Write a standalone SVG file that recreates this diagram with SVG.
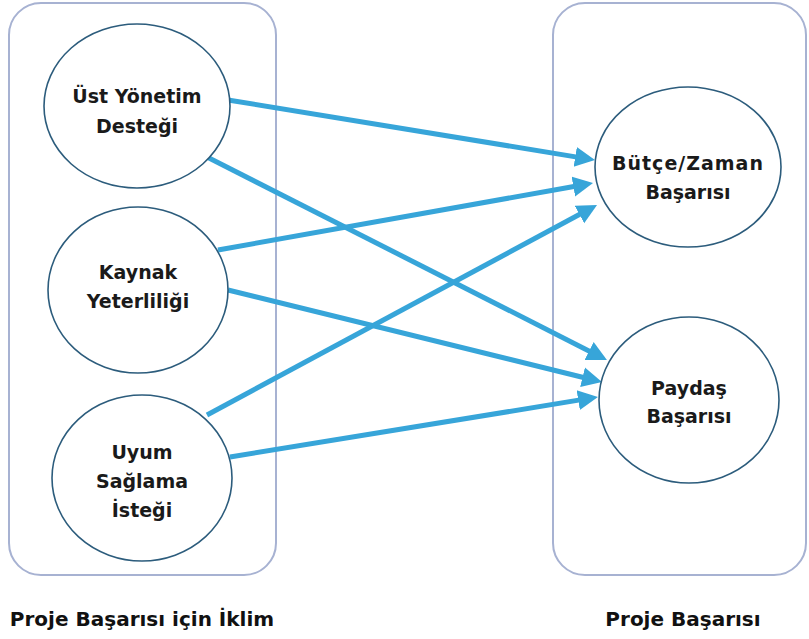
<svg xmlns="http://www.w3.org/2000/svg" width="809" height="639" viewBox="0 0 809 639">
<style>
.box{fill:none;stroke:#a7b2d2;stroke-width:2}
.node{fill:#fff;stroke:#2c5c7c;stroke-width:1.6}
.t{font-family:"DejaVu Sans","Liberation Sans",sans-serif;font-weight:bold;font-size:19px;fill:#1a1a1a;text-anchor:middle;dominant-baseline:central}
.cap{font-family:"DejaVu Sans","Liberation Sans",sans-serif;font-weight:bold;font-size:20px;fill:#111;text-anchor:middle;dominant-baseline:central}
.edge{stroke:#37a5d9;stroke-width:5;fill:none;marker-end:url(#ah)}
</style>
<defs>
<marker id="ah" markerUnits="userSpaceOnUse" markerWidth="22" markerHeight="22" refX="2" refY="10" orient="auto" viewBox="0 0 22 20">
<path d="M0,0 L20,10 L0,20 z" fill="#37a5d9"/>
</marker>
</defs>
<rect width="809" height="639" fill="#fff"/>
<g id="group-left">
<rect class="box" x="9" y="3" width="267" height="572" rx="32"/>
<text class="cap" x="142" y="619">Proje Başarısı için İklim</text>
</g>
<g id="group-right">
<rect class="box" x="553" y="3" width="253" height="572" rx="32"/>
<text class="cap" x="683" y="619">Proje Başarısı</text>
</g>
<g id="connectors">
<line class="edge" x1="228" y1="100" x2="577.2" y2="157.1"/>
<line class="edge" x1="207" y1="157" x2="590.9" y2="351.9"/>
<line class="edge" x1="218" y1="250" x2="575.3" y2="186.2"/>
<line class="edge" x1="228" y1="290" x2="584.5" y2="377.7"/>
<line class="edge" x1="207" y1="415" x2="581.2" y2="213.5"/>
<line class="edge" x1="230" y1="457" x2="580.2" y2="399.9"/>
</g>
<g id="ust-yonetim">
<ellipse class="node" cx="137" cy="106" rx="93" ry="82"/>
<text class="t" x="137" y="96">Üst Yönetim</text>
<text class="t" x="137" y="126">Desteği</text>
</g>
<g id="kaynak">
<ellipse class="node" cx="138" cy="290" rx="90" ry="83"/>
<text class="t" x="138" y="272">Kaynak</text>
<text class="t" x="138" y="301">Yeterliliği</text>
</g>
<g id="uyum">
<ellipse class="node" cx="142" cy="478" rx="90" ry="83"/>
<text class="t" x="142" y="452">Uyum</text>
<text class="t" x="142" y="481">Sağlama</text>
<text class="t" x="142" y="510">İsteği</text>
</g>
<g id="butce">
<ellipse class="node" cx="688" cy="167" rx="93" ry="80"/>
<text class="t" x="688" y="163" letter-spacing="1">Bütçe/Zaman</text>
<text class="t" x="688" y="192">Başarısı</text>
</g>
<g id="paydas">
<ellipse class="node" cx="689" cy="400" rx="90" ry="83"/>
<text class="t" x="689" y="388">Paydaş</text>
<text class="t" x="689" y="416">Başarısı</text>
</g>
</svg>
